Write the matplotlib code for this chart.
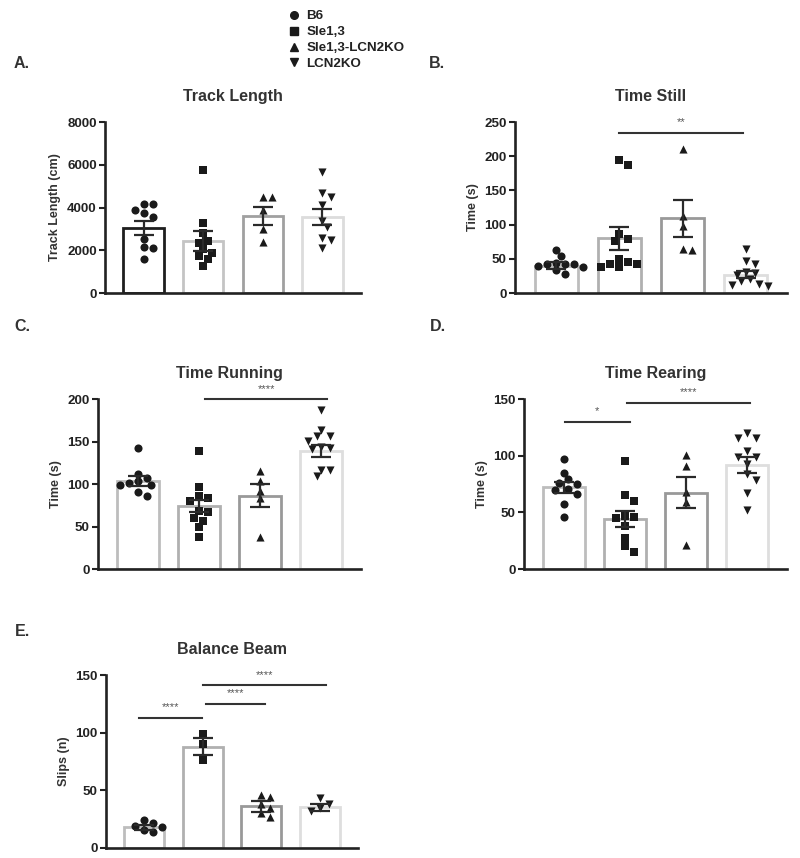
import numpy as np
import matplotlib
matplotlib.use("Agg")
import matplotlib.pyplot as plt
from matplotlib.lines import Line2D

plt.rcParams["font.family"] = ["Liberation Sans", "DejaVu Sans"]
plt.rcParams["font.weight"] = "bold"

GROUPS = ["B6", "Sle1,3", "Sle1,3-LCN2KO", "LCN2KO"]
MARKERS = ["o", "s", "^", "v"]

# --- Track Length
track_b6 = [4160, 4160, 3880, 3760, 3570, 2510, 2140, 2090, 1590]
track_sle = [5760, 3260, 2790, 2450, 2360, 2040, 1890, 1730, 1580, 1260]
track_sleko = [4510, 4480, 3880, 2980, 2400]
track_ko = [5640, 4660, 4480, 4120, 3370, 3070, 2560, 2480, 2090]
track_mean = [3060, 2450, 3620, 3540]
track_sem = [330, 470, 420, 380]

# --- Time Still
still_b6 = [63, 54, 44, 43, 42, 42, 39, 38, 33, 28]
still_sle = [195, 187, 86, 79, 76, 49, 46, 43, 42, 38, 38]
still_sleko = [211, 113, 98, 65, 63]
still_ko = [65, 47, 42, 30, 29, 27, 20, 17, 13, 12, 10]
still_mean = [40, 80, 109, 27]
still_sem = [5, 17, 27, 5.5]

# --- Time Running
run_b6 = [142, 112, 107, 103, 101, 99, 99, 91, 86]
run_sle = [139, 96, 86, 83, 80, 68, 67, 60, 57, 49, 38]
run_sleko = [115, 104, 92, 83, 38]
run_ko = [187, 164, 157, 156, 151, 144, 142, 141, 117, 116, 109]
run_mean = [104, 74, 86, 139]
run_sem = [6, 7, 13.5, 7.5]

# --- Time Rearing
rear_b6 = [97, 85, 79.5, 76, 75, 71, 70, 66, 57, 45.5]
rear_sle = [95, 65, 60, 47, 46, 45, 38, 27, 20, 15]
rear_sleko = [101, 91, 68, 59, 21]
rear_ko = [120, 116, 116, 104, 99, 99, 93, 84, 79, 67, 52]
rear_mean = [72, 44.5, 67.5, 92]
rear_sem = [5, 7, 14, 7]

# --- Balance Beam
beam_b6 = [24, 22, 19, 18, 16, 14]
beam_sle = [99, 90, 76]
beam_sleko = [46, 44, 38, 35, 30, 27]
beam_ko = [43, 38, 35, 32]
beam_mean = [18, 88, 36, 35.5]
beam_sem = [2, 7, 5, 3]

# significance bars: (x start, x end, height, label)
SIG_STILL = [(1.0, 2.95, 234, "**")]
SIG_RUN = [(1.1, 3.1, 199.5, "****")]
SIG_REAR = [(0.02, 1.08, 130, "*"), (1.03, 3.05, 146.5, "****")]
SIG_BEAM = [(-0.09, 0.98, 113, "****"), (1.05, 2.07, 125, "****"), (1.0, 3.1, 141, "****")]

EDGE_A = ["#1e1e1e", "#c4c4c4", "#a0a0a0", "#dcdcdc"]
EDGE = ["#bdbdbd", "#b0b0b0", "#999999", "#dedede"]
INK = "#222222"

fig = plt.figure(figsize=(8, 8.58), dpi=100)


def swarm(ax, xc, vals, diam=7.5):
    # simple beeswarm: shift points sideways until they stop overlapping
    vals = np.asarray(vals, dtype=float)
    ys = ax.transData.transform(np.column_stack([np.full(len(vals), xc), vals]))[:, 1]
    px_unit = ax.transData.transform((1, 0))[0] - ax.transData.transform((0, 0))[0]
    step = diam * 0.6
    cands = [0.0]
    for k in range(1, 20):
        cands += [k * step, -k * step]
    placed = []
    offs = np.zeros(len(vals))
    for i in np.argsort(-vals):
        for c in cands:
            if all(np.hypot(c - px, ys[i] - py) >= diam for px, py in placed):
                break
        placed.append((c, ys[i]))
        offs[i] = c / px_unit
    return xc + offs


def panel(rect, title, ylabel, groups, means, sems, ymax, ystep, edges, sig=()):
    ax = fig.add_axes(rect)
    ax.set_xlim(-0.65, 3.65)
    ax.set_ylim(0, ymax)
    ax.set_yticks(np.arange(0, ymax + 1, ystep))
    ax.set_xticks([])
    for sp in ["top", "right"]:
        ax.spines[sp].set_visible(False)
    for sp in ["left", "bottom"]:
        ax.spines[sp].set_color(INK)
        ax.spines[sp].set_linewidth(1.9)
    ax.tick_params(axis="y", length=4, width=1.5, labelsize=9.6, colors=INK, pad=2)
    for lab in ax.get_yticklabels():
        lab.set_fontweight("bold")

    x = np.arange(4)
    ax.bar(x, means, width=0.68, color="white", edgecolor=edges, linewidth=2.0, zorder=1)
    for i, vals in enumerate(groups):
        xs = swarm(ax, i, vals)
        ax.scatter(xs, vals, marker=MARKERS[i], s=34 if MARKERS[i] != "s" else 30,
                   color="#1a1a1a", linewidths=0, zorder=3)
    ax.errorbar(x, means, yerr=sems, fmt="none", ecolor="#2a2a2a", elinewidth=1.6,
                capsize=7.5, capthick=1.6, zorder=4)

    for x0, x1, h, lab in sig:
        ax.plot([x0, x1], [h, h], color="#333333", lw=1.5, clip_on=False, zorder=5)
        ax.annotate(lab, ((x0 + x1) / 2, h), xytext=(0, 4), textcoords="offset points",
                    ha="center", va="bottom", fontsize=8, color="#555555",
                    fontweight="normal", annotation_clip=False)

    ax.set_title(title, fontsize=11.5, fontweight="bold", color="#333333", pad=15)
    ax.set_ylabel(ylabel, fontsize=9, fontweight="bold", color="#333333")
    return ax


panel([0.13125, 0.6585, 0.32, 0.1993], "Track Length", "Track Length (cm)",
      [track_b6, track_sle, track_sleko, track_ko], track_mean, track_sem, 8000, 2000, EDGE_A)
panel([0.64375, 0.6585, 0.34, 0.1993], "Time Still", "Time (s)",
      [still_b6, still_sle, still_sleko, still_ko], still_mean, still_sem, 250, 50, EDGE, SIG_STILL)
panel([0.1225, 0.3368, 0.32875, 0.1981], "Time Running", "Time (s)",
      [run_b6, run_sle, run_sleko, run_ko], run_mean, run_sem, 200, 50, EDGE, SIG_RUN)
panel([0.655, 0.3368, 0.32875, 0.1981], "Time Rearing", "Time (s)",
      [rear_b6, rear_sle, rear_sleko, rear_ko], rear_mean, rear_sem, 150, 50, EDGE, SIG_REAR)
panel([0.1325, 0.01166, 0.315, 0.2016], "Balance Beam", "Slips (n)",
      [beam_b6, beam_sle, beam_sleko, beam_ko], beam_mean, beam_sem, 150, 50, EDGE, SIG_BEAM)

# panel letters
for lab, px, py in [("A.", 14, 63), ("B.", 429, 64), ("C.", 14, 327), ("D.", 430, 327), ("E.", 15, 632)]:
    fig.text(px / 800, 1 - py / 858, lab, fontsize=11.5, fontweight="bold", color="#333333",
             ha="left", va="center")

# legend
handles = [Line2D([], [], marker=m, ls="none", color="#1a1a1a", markersize=5.5) for m in MARKERS]
leg = fig.legend(handles, GROUPS, loc="upper left", bbox_to_anchor=(289 / 800, 1 - 10 / 858),
                 frameon=False, fontsize=9.6, handlelength=0.8, handletextpad=0.5,
                 labelspacing=0.27, borderpad=0, borderaxespad=0)
for t in leg.get_texts():
    t.set_fontweight("bold")
    t.set_color("#222222")

fig.savefig("out.png", dpi=100)
